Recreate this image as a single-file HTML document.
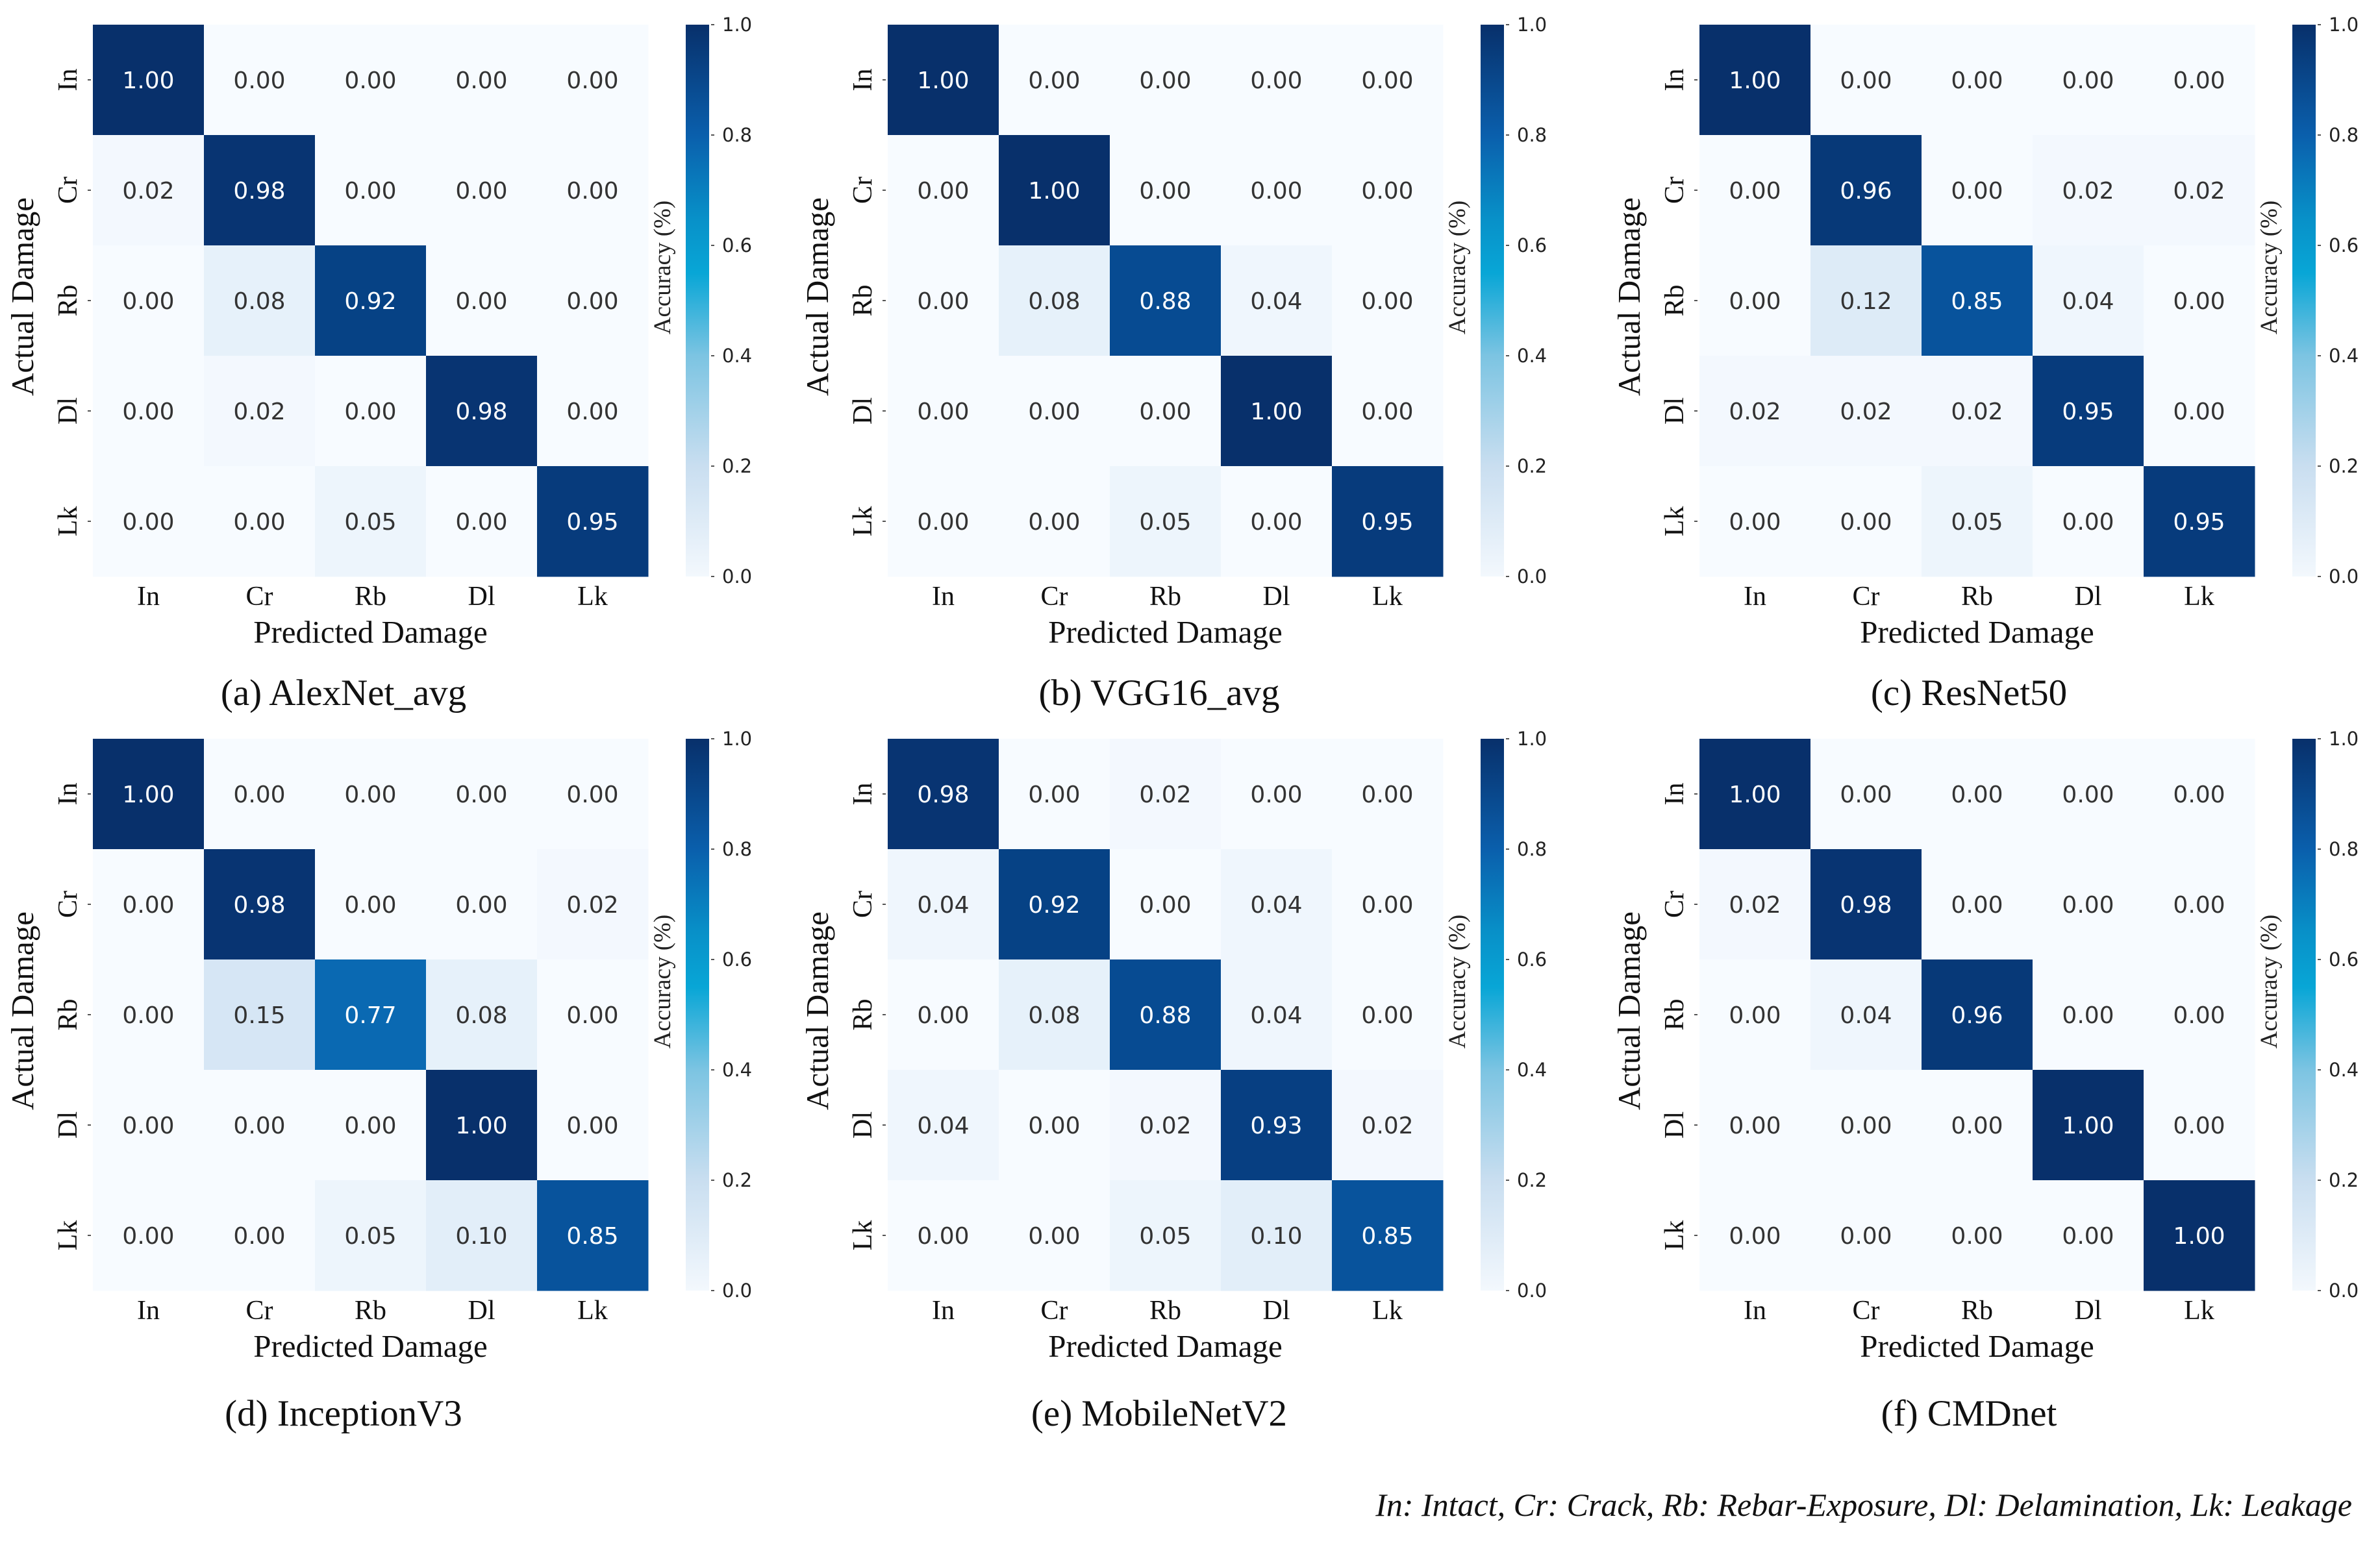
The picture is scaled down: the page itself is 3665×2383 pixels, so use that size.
<!DOCTYPE html>
<html><head><meta charset="utf-8"><style>
html,body{margin:0;padding:0;background:#fff;}
svg{display:block;}
.num{font-family:"DejaVu Sans",sans-serif;font-size:36px;}
.tick{font-family:"Liberation Serif",serif;font-size:42px;fill:#111;}
.cbt{font-family:"DejaVu Sans",sans-serif;font-size:29px;fill:#222;}
.ttl{font-family:"Liberation Serif",serif;font-size:49px;fill:#111;}
.cap{font-family:"Liberation Serif",serif;font-size:57px;fill:#111;}
.lab{font-family:"Liberation Serif",serif;font-size:37px;fill:#222;}
.foot{font-family:"Liberation Serif",serif;font-style:italic;font-size:50px;fill:#111;}
</style></head><body>
<svg id="fig" width="3665" height="2383" viewBox="0 0 3665 2383" xmlns="http://www.w3.org/2000/svg">
<defs>
<linearGradient id="cbg" x1="0" y1="1" x2="0" y2="0">
<stop offset="0" stop-color="#f3f8fd"/><stop offset="0.2" stop-color="#c9def0"/>
<stop offset="0.4" stop-color="#7cc4e2"/><stop offset="0.55" stop-color="#08a6d6"/>
<stop offset="0.65" stop-color="#0890c8"/><stop offset="0.8" stop-color="#0a5fac"/>
<stop offset="1" stop-color="#08306b"/>
</linearGradient>
</defs>
<text class="foot" x="3622" y="2335" text-anchor="end">In: Intact,  Cr: Crack, Rb: Rebar-Exposure, Dl: Delamination, Lk: Leakage</text>
</svg>
<script>
const classes = ["In","Cr","Rb","Dl","Lk"];
const cbTicks = [0.0,0.2,0.4,0.6,0.8,1.0];
const captions = ["(a) AlexNet_avg","(b) VGG16_avg","(c) ResNet50","(d) InceptionV3","(e) MobileNetV2","(f) CMDnet"];
const matA = [[1,0,0,0,0],[0.02,0.98,0,0,0],[0,0.08,0.92,0,0],[0,0.02,0,0.98,0],[0,0,0.05,0,0.95]];
const matB = [[1,0,0,0,0],[0,1,0,0,0],[0,0.08,0.88,0.04,0],[0,0,0,1,0],[0,0,0.05,0,0.95]];
const matC = [[1,0,0,0,0],[0,0.96,0,0.02,0.02],[0,0.12,0.85,0.04,0],[0.02,0.02,0.02,0.95,0],[0,0,0.05,0,0.95]];
const matD = [[1,0,0,0,0],[0,0.98,0,0,0.02],[0,0.15,0.77,0.08,0],[0,0,0,1,0],[0,0,0.05,0.10,0.85]];
const matE = [[0.98,0,0.02,0,0],[0.04,0.92,0,0.04,0],[0,0.08,0.88,0.04,0],[0.04,0,0.02,0.93,0.02],[0,0,0.05,0.10,0.85]];
const matF = [[1,0,0,0,0],[0.02,0.98,0,0,0],[0,0.04,0.96,0,0],[0,0,0,1,0],[0,0,0,0,1]];
const mats = [matA,matB,matC,matD,matE,matF];

const stops=[[0,[247,251,255]],[0.1,[226,238,249]],[0.2,[201,222,240]],[0.4,[124,196,226]],[0.55,[8,166,214]],[0.65,[8,144,200]],[0.8,[10,95,172]],[0.9,[6,70,140]],[1,[8,48,107]]];
function cmap(v){
  v=Math.max(0,Math.min(1,v));
  for(let i=1;i<stops.length;i++){
    if(v<=stops[i][0]){
      const a=stops[i-1],b=stops[i],t=(v-a[0])/(b[0]-a[0]);
      const c=a[1].map((x,k)=>Math.round(x+(b[1][k]-x)*t));
      return `rgb(${c[0]},${c[1]},${c[2]})`;
    }
  }
  return "rgb(8,48,107)";
}
const NS="http://www.w3.org/2000/svg";
const svg=document.getElementById('fig');
function mk(tag,attrs,parent,text){
  const e=document.createElementNS(NS,tag);
  for(const k in attrs)e.setAttribute(k,attrs[k]);
  if(text!==undefined)e.textContent=text;
  (parent||svg).appendChild(e);return e;
}
const colX=[143,1367,2617];
const rowY=[38,1138];
const W=855,H=850;
const capX=[529,1785,3032];
const capY=[1086,2196];
mats.forEach((m,p)=>{
  const ci=p%3, ri=Math.floor(p/3);
  const x0=colX[ci], y0=rowY[ri];
  const g=mk('g',{});
  
  
  const n=classes.length;
  const cw=W/n, ch=H/n;
  const sx=j=>x0+j*cw, sy=i=>y0+i*ch;
  m.forEach((row,i)=>row.forEach((v,j)=>{
    const r=mk('rect',{x:sx(j),y:sy(i),width:cw+0.5,height:ch+0.5,fill:cmap(v)},g);
    
    
    const t=mk('text',{x:sx(j)+cw/2,y:sy(i)+ch/2+13,'text-anchor':'middle',class:'num',fill:v>0.5?'#fff':'#333'},g,v.toFixed(2));
    
    
  }));
  classes.forEach((c,k)=>{
    const tx=mk('text',{x:sx(k)+cw/2,y:y0+H+44,'text-anchor':'middle',class:'tick'},g,c);
    
    
    const yy=sy(k)+ch/2;
    const ty=mk('text',{x:0,y:0,'text-anchor':'middle',class:'tick',transform:`translate(${x0-25},${yy}) rotate(-90)`},g,c);
    
    
    mk('line',{x1:x0-8,x2:x0-3,y1:yy,y2:yy,stroke:'#555','stroke-width':2},g);
  });
  const xt=mk('text',{x:x0+W/2,y:y0+H+102,'text-anchor':'middle',class:'ttl'},g,'Predicted Damage');
  
  
  const yt=mk('text',{x:0,y:0,'text-anchor':'middle',class:'ttl',transform:`translate(${x0-92},${y0+H/2-6}) rotate(-90)`},g,'Actual Damage');
  
  
  const cbx=x0+W+58, cbw=36;
  const cb=mk('rect',{x:cbx,y:y0,width:cbw,height:H,fill:'url(#cbg)'},g);
  
  
  const cy=v=>y0+H-v*H;
  cbTicks.forEach(v=>{
    mk('line',{x1:cbx+cbw+3,x2:cbx+cbw+8,y1:cy(v),y2:cy(v),stroke:'#555','stroke-width':2},g);
    const t=mk('text',{x:cbx+cbw+20,y:cy(v)+10,class:'cbt'},g,v.toFixed(1));
    
    
  });
  const cl=mk('text',{x:0,y:0,'text-anchor':'middle',class:'lab',transform:`translate(${cbx-24},${y0+H*0.44}) rotate(-90)`},g,'Accuracy (%)');
  
  
  const cp=mk('text',{x:capX[ci],y:capY[ri],'text-anchor':'middle',class:'cap'},g,captions[p]);
  
  
});
</script>
</body></html>
